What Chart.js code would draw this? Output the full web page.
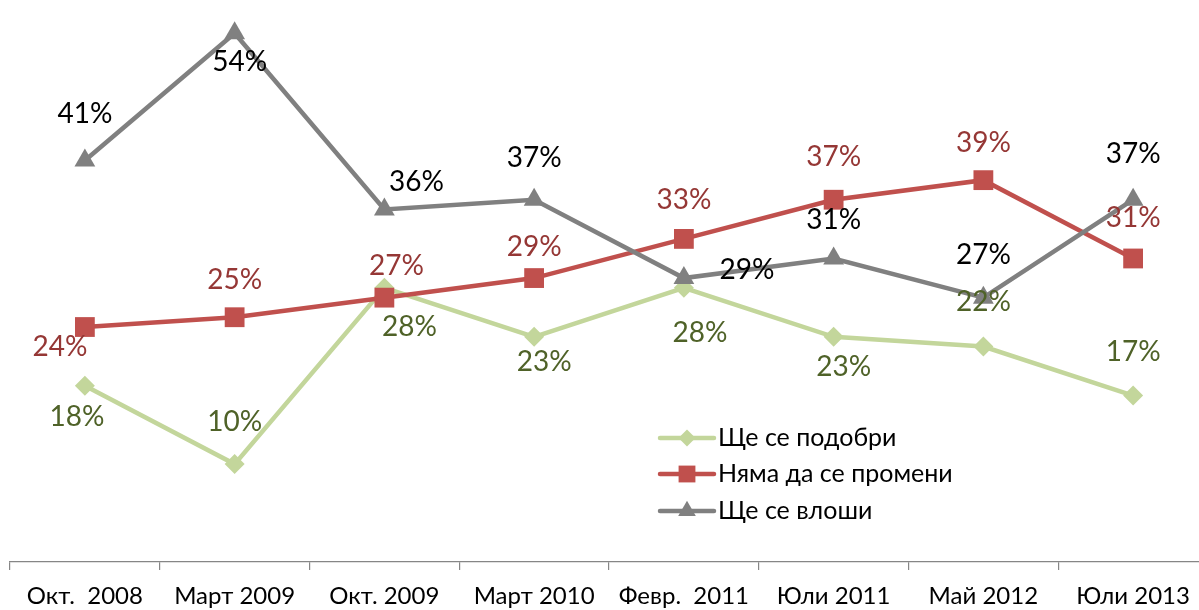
<!DOCTYPE html>
<html><head><meta charset="utf-8">
<script src="https://cdn.jsdelivr.net/npm/chart.js@4"></script>
<style>
html,body{margin:0;padding:0;overflow:hidden;background:#fff}
#wrap{position:relative;width:1210px;height:610px}
</style>
</head><body>
<div id="wrap"><canvas id="c"></canvas></div>
<script>
// ---- data ----
const categories = ['Окт.  2008','Март 2009','Окт. 2009','Март 2010','Февр.  2011','Юли 2011','Май 2012','Юли 2013'];
const seriesNames = ['Ще се подобри','Няма да се промени','Ще се влоши'];
const improve  = [18,10,28,23,28,23,22,17];
const noChange = [24,25,27,29,33,37,39,31];
const worsen   = [41,54,36,37,29,31,27,37];

// ---- label placement (offsets from each point, px) ----
const improveLabelOffsets  = [[-8,31],[0,-42],[25,39],[10,25],[16,45],[10,30],[0,-45],[0,-44]];
const noChangeLabelOffsets = [[-25,20],[0,-37],[12,-32],[0,-31],[0,-39],[0,-43],[0,-37],[0,-41]];
const worsenLabelOffsets   = [[0,-47],[5,29],[32,-28],[0,-42],[63,-8],[0,-39],[0,-43],[0,-46]];

const FONT = 'Lato, "Open Sans", sans-serif';

const dataLabelPlugin = {
  id: 'dataLabels',
  afterDatasetsDraw(chart) {
    const ctx = chart.ctx;
    ctx.save();
    ctx.font = '28px ' + FONT;
    ctx.textAlign = 'center';
    ctx.textBaseline = 'middle';
    chart.data.datasets.forEach((ds, i) => {
      const meta = chart.getDatasetMeta(i);
      ctx.fillStyle = ds.labelColor;
      meta.data.forEach((el, j) => {
        const off = ds.labelOffsets[j];
        ctx.fillText(ds.data[j] + '%', el.x + off[0], el.y + off[1]);
      });
    });
    ctx.restore();
  }
};

function drawMarker(ctx, style, x, y, r) {
  ctx.beginPath();
  if (style === 'rectRot') {
    ctx.moveTo(x, y - r); ctx.lineTo(x + r, y); ctx.lineTo(x, y + r); ctx.lineTo(x - r, y);
  } else if (style === 'rect') {
    const h = r * Math.SQRT1_2;
    ctx.rect(x - h, y - h, 2 * h, 2 * h);
  } else if (style === 'triangle') {
    ctx.moveTo(x, y - r);
    ctx.lineTo(x + r * Math.sqrt(3) / 2, y + r / 2);
    ctx.lineTo(x - r * Math.sqrt(3) / 2, y + r / 2);
  }
  ctx.closePath();
  ctx.fill();
}

const legendPlugin = {
  id: 'innerLegend',
  afterDraw(chart) {
    const ctx = chart.ctx;
    const rows = [438, 474, 511];
    ctx.save();
    chart.data.datasets.forEach((ds, i) => {
      const y = rows[i];
      ctx.strokeStyle = ds.borderColor;
      ctx.lineWidth = 4.5;
      ctx.lineCap = 'round';
      ctx.beginPath(); ctx.moveTo(660, y); ctx.lineTo(714, y); ctx.stroke();
      ctx.fillStyle = ds.borderColor;
      drawMarker(ctx, ds.pointStyle, 687, y, ds.pointRadius * 0.85);
      ctx.fillStyle = '#000';
      ctx.font = '25px ' + FONT;
      ctx.textAlign = 'left';
      ctx.textBaseline = 'middle';
      ctx.fillText(ds.label, 718, y);
    });
    ctx.restore();
  }
};

new Chart(document.getElementById('c'), {
  type: 'line',
  data: {
    labels: categories,
    datasets: [
      { label: seriesNames[0], data: improve, borderColor: '#C3D69B', backgroundColor: '#C3D69B',
        pointStyle: 'rectRot', pointRadius: 10, pointHoverRadius: 10, order: 2,
        labelColor: '#4F6228', labelOffsets: improveLabelOffsets },
      { label: seriesNames[1], data: noChange, borderColor: '#C0504D', backgroundColor: '#C0504D',
        pointStyle: 'rect', pointRadius: 14, pointHoverRadius: 14, order: 1,
        labelColor: '#953735', labelOffsets: noChangeLabelOffsets },
      { label: seriesNames[2], data: worsen, borderColor: '#808080', backgroundColor: '#808080',
        pointStyle: 'triangle', pointRadius: 12, pointHoverRadius: 12, order: 0,
        labelColor: '#000000', labelOffsets: worsenLabelOffsets }
    ].map(d => Object.assign({ borderWidth: 4.5, tension: 0, pointBorderWidth: 0,
      pointBackgroundColor: d.borderColor, fill: false, clip: false }, d))
  },
  options: {
    responsive: true,
    maintainAspectRatio: false,
    animation: false,
    layout: { autoPadding: false, padding: { left: 10, right: 2, top: 0, bottom: 0 } },
    plugins: { legend: { display: false }, tooltip: { enabled: false } },
    scales: {
      y: { display: false, min: 0, max: 57.4 },
      x: {
        offset: true,
        border: { display: true, color: '#868686', width: 1.2 },
        grid: { display: true, offset: true, drawOnChartArea: false, drawTicks: true,
                tickLength: 8, color: '#868686', lineWidth: 1.2 },
        ticks: { font: { family: FONT, size: 24 }, color: '#000', padding: 12,
                 maxRotation: 0, autoSkip: false },
        afterFit(scale) { scale.height = 48; }
      }
    }
  },
  plugins: [dataLabelPlugin, legendPlugin]
});
</script>
</body></html>
